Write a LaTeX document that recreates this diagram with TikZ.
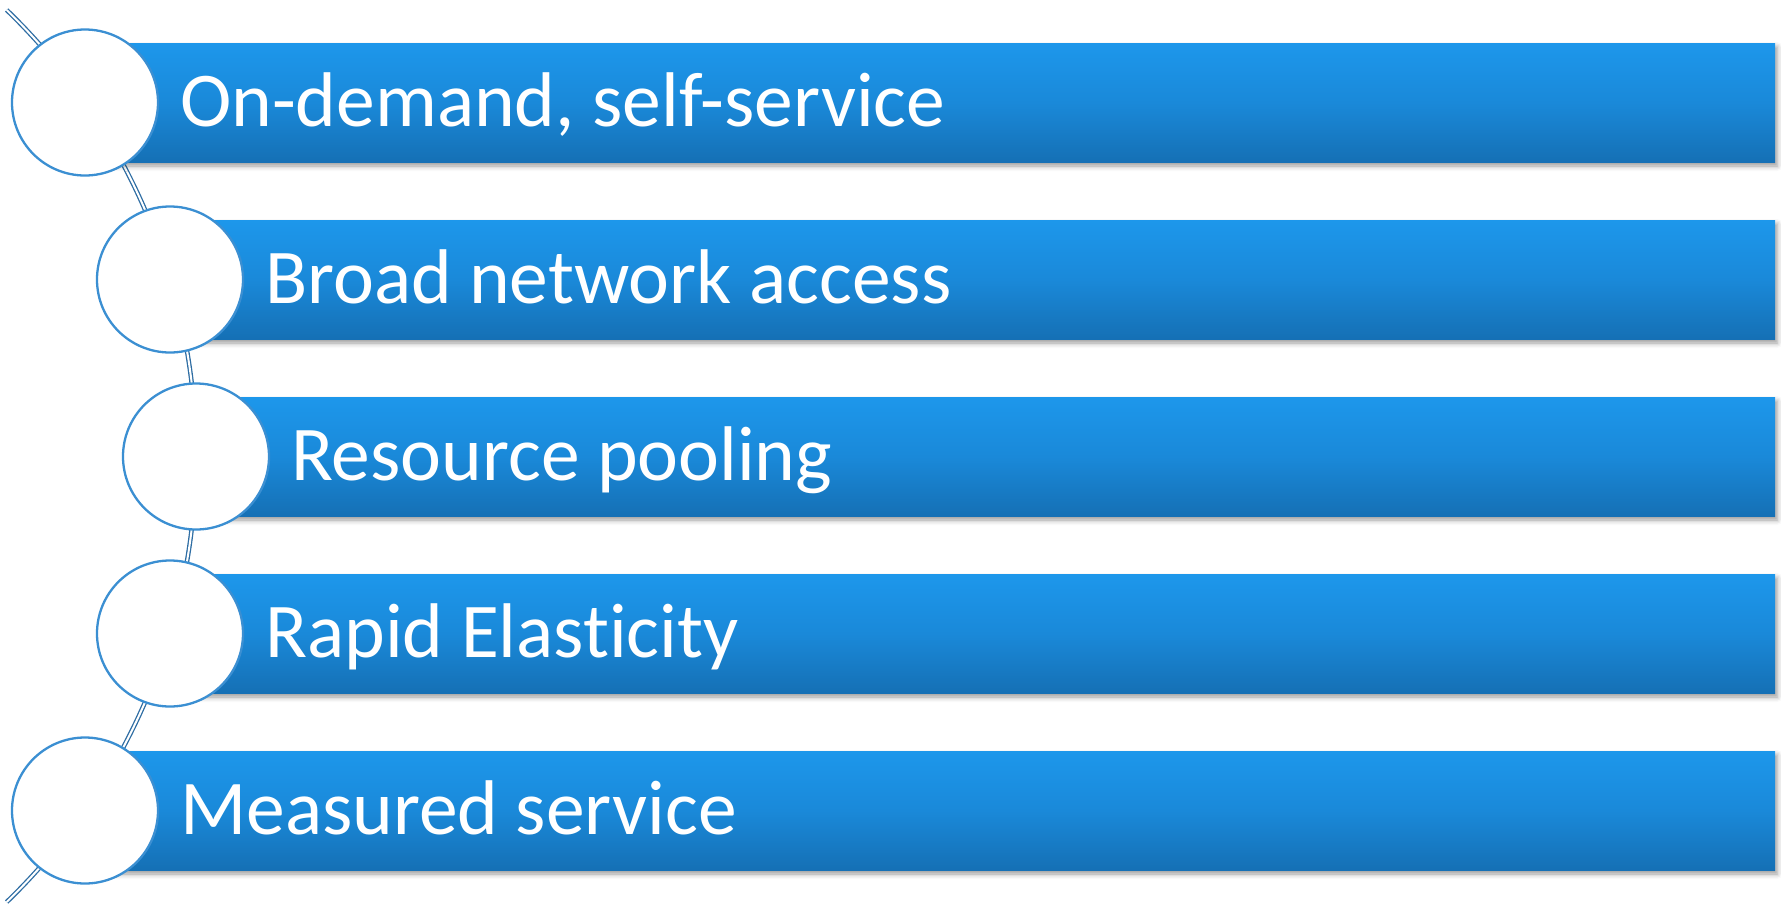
\documentclass[tikz,border=0pt]{standalone}
\usepackage{fontspec}
\setmainfont{Carlito}[Ligatures=NoCommon]
\usetikzlibrary{shadows.blur}
\definecolor{bartop}{HTML}{1D97EB}
\definecolor{barmid}{HTML}{1A89D9}
\definecolor{barbot}{HTML}{1570B5}
\definecolor{ringblue}{HTML}{3B8FD2}
\definecolor{arcblue}{HTML}{2E6DA3}
\begin{document}
\begin{tikzpicture}[x=1pt,y=-1pt,
  bar/.style={draw=none, rectangle, inner sep=0pt, minimum height=119pt, anchor=west,
    top color=bartop, bottom color=barbot, middle color=barmid,
    blur shadow={shadow xshift=2pt, shadow yshift=-4pt, shadow blur radius=5pt, shadow opacity=40}},
  dot/.style={circle, draw=ringblue, line width=2.3pt, fill=white, minimum size=146pt, inner sep=0pt},
  itemtext/.style={text=white, font=\fontsize{77.5}{90}\selectfont, anchor=base west, inner sep=0pt},
  link/.style={draw=arcblue, double=white, line width=1.3pt, double distance=2pt}]
\useasboundingbox (0,0) rectangle (1781,903);
% arc through the circle centres
\coordinate (arcstart) at ({-424+620*cos(-46)},{456+620*sin(-46)});
\draw[link] (arcstart) arc[start angle=-46, end angle=46, radius=620];
% bars
\node[bar, minimum width=1690pt] (b1) at (85,102.5) {};
\node[bar, minimum width=1605pt] (b2) at (170,279.5) {};
\node[bar, minimum width=1579pt] (b3) at (196,456.5) {};
\node[bar, minimum width=1605pt] (b4) at (170,633.5) {};
\node[bar, minimum width=1690pt] (b5) at (85,810.5) {};
% circles
\node[dot] (c1) at (85,102.5) {};
\node[dot] (c2) at (170,279.5) {};
\node[dot] (c3) at (196,456.5) {};
\node[dot] (c4) at (170,633.5) {};
\node[dot] (c5) at (85,810.5) {};
% texts
\node[itemtext] (t1) at (180,126) {On-demand, self-service};
\node[itemtext] (t2) at (265,303) {Broad network access};
\node[itemtext] (t3) at (291,480) {Resource pooling};
\node[itemtext] (t4) at (265,657) {Rapid Elasticity};
\node[itemtext] (t5) at (180,834) {Measured service};
\end{tikzpicture}
\end{document}
